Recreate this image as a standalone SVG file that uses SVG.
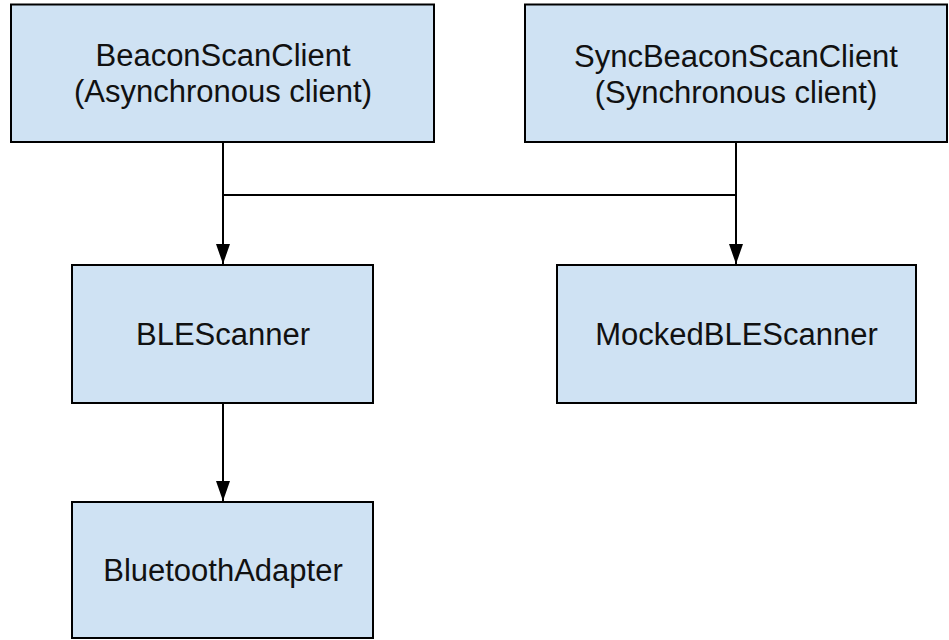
<svg xmlns="http://www.w3.org/2000/svg" width="949" height="640" viewBox="0 0 949 640">
  <style>
    .box { fill: #cfe2f3; stroke: #000; stroke-width: 2; }
    .label { font-family: "Liberation Sans", Arial, sans-serif; font-size: 31px; fill: #111; text-anchor: middle; }
    .wire { fill: none; stroke: #000; stroke-width: 2; }
  </style>
  <defs>
    <marker id="arrow" markerUnits="userSpaceOnUse" markerWidth="20" markerHeight="14" refX="20" refY="7" viewBox="0 0 20 14" orient="auto">
      <path d="M0,0 L20,7 L0,14 Z" fill="#000"/>
    </marker>
  </defs>

  <g id="connectors">
    <line class="wire" x1="223" y1="142" x2="223" y2="264" marker-end="url(#arrow)"/>
    <line class="wire" x1="736" y1="142" x2="736" y2="264" marker-end="url(#arrow)"/>
    <line class="wire" x1="223" y1="195" x2="736" y2="195"/>
    <line class="wire" x1="223" y1="403" x2="223" y2="501" marker-end="url(#arrow)"/>
  </g>

  <g id="beacon-scan-client">
    <rect class="box" x="11" y="4.5" width="423" height="137.5"/>
    <text class="label" x="223" y="66">BeaconScanClient</text>
    <text class="label" x="223" y="102">(Asynchronous client)</text>
  </g>

  <g id="sync-beacon-scan-client">
    <rect class="box" x="525" y="4.5" width="422" height="137.5"/>
    <text class="label" x="736" y="66.5">SyncBeaconScanClient</text>
    <text class="label" x="736" y="102.5">(Synchronous client)</text>
  </g>

  <g id="ble-scanner">
    <rect class="box" x="72" y="265" width="301" height="138"/>
    <text class="label" x="223" y="345">BLEScanner</text>
  </g>

  <g id="mocked-ble-scanner">
    <rect class="box" x="557" y="265" width="359" height="138"/>
    <text class="label" x="736.5" y="345">MockedBLEScanner</text>
  </g>

  <g id="bluetooth-adapter">
    <rect class="box" x="72" y="502" width="301" height="136"/>
    <text class="label" x="223" y="581">BluetoothAdapter</text>
  </g>
</svg>
